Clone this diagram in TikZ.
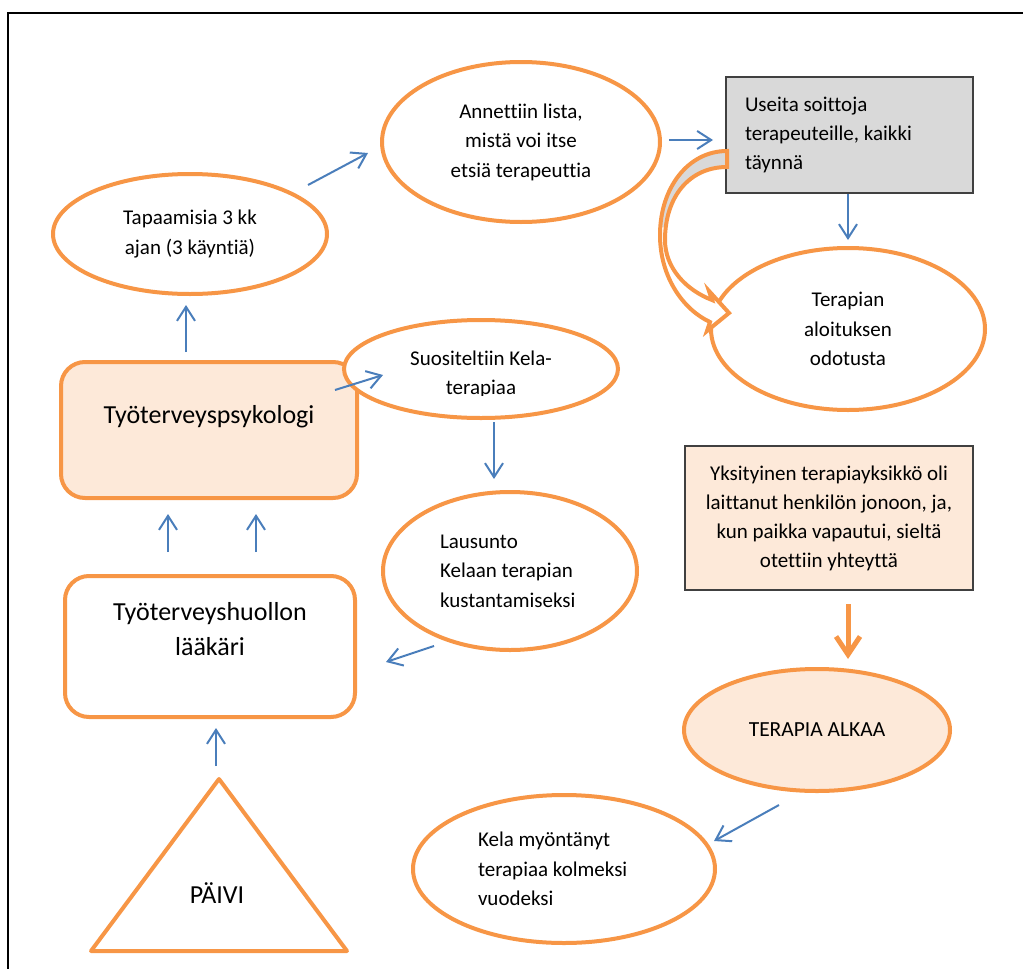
\documentclass[tikz,border=0pt]{standalone}
\usepackage{fontspec}
\setmainfont[Ligatures={NoCommon,NoContextual}]{Carlito}
\usetikzlibrary{shapes.geometric,arrows.meta}
\definecolor{accent}{HTML}{F79646}
\definecolor{linkblue}{HTML}{4A7EBB}
\definecolor{peach}{HTML}{FDE9D9}
\definecolor{boxgray}{HTML}{D9D9D9}
\definecolor{edgegray}{HTML}{404040}
\begin{document}
\begin{tikzpicture}[x=1pt,y=-1pt,
  oval/.style={ellipse, draw=accent, line width=4pt, fill=white, inner sep=0pt,
    align=center, font=\fontsize{21}{29.5}\selectfont},
  roundbox/.style={rectangle, rounded corners=24pt, draw=accent, line width=4pt,
    inner sep=0pt, align=center, font=\fontsize{26}{35}\selectfont},
  notebox/.style={rectangle, draw=edgegray, line width=1.2pt, inner sep=0pt,
    font=\fontsize{21}{29}\selectfont},
  flow/.style={draw=linkblue, line width=2pt, -{Straight Barb[length=14pt,width=18pt]}},
  bigflow/.style={draw=accent, line width=5pt, -{Straight Barb[length=18pt,width=24pt]}}]
\useasboundingbox (0,0) rectangle (1023,969);

% page frame
\draw[black, line width=2pt] (8,969) -- (8,13) -- (1023,13);

% upper chain
\node[oval, minimum width=274pt, minimum height=120pt] (tap) at (190,234)
  {Tapaamisia 3 kk\\ajan (3 käyntiä)};
\node[oval, minimum width=278pt, minimum height=160pt] (ann) at (521,142)
  {Annettiin lista,\\mistä voi itse\\etsiä terapeuttia};
\node[notebox, fill=boxgray, minimum width=247pt, minimum height=116pt,
  text width=209pt, align=flush left] (calls) at (849.5,135)
  {Useita soittoja\\terapeuteille, kaikki\\täynnä};
\node[oval, minimum width=274pt, minimum height=162pt] (wait) at (848,329)
  {Terapian\\aloituksen\\odotusta};

% bent block arrow from the calls box down to the waiting ellipse
\path[save path=\bendpath]
  (727,151) .. controls (688,151) and (660,188) .. (660,235)
  .. controls (660,278) and (684,310) .. (710,322)
  -- (707,331) -- (729,313) -- (709,291) -- (712,300)
  .. controls (686,290) and (665,268) .. (665,240)
  .. controls (665,196) and (690,167) .. (727,167) -- cycle;
\fill[white, use path=\bendpath];
\begin{scope}
  \clip (640,140) rectangle (740,226);
  \fill[boxgray, use path=\bendpath];
\end{scope}
\draw[accent, line width=4pt, line join=miter, use path=\bendpath];

% left column
\node[roundbox, fill=peach, minimum width=296pt, minimum height=136pt,
  text height=19pt, text depth=33pt] (psy) at (209,430) {Työterveyspsykologi};
\node[oval, minimum width=274pt, minimum height=98pt] (suo) at (481,369) {};
\begin{scope}
  \clip (340,330) rectangle (625,395);
  \node[align=center, inner sep=0pt, font=\fontsize{21}{29.5}\selectfont]
    (suotext) at (481,374.5) {Suositeltiin Kela-\\terapiaa};
\end{scope}
\node[oval, minimum width=254pt, minimum height=158pt, text width=140pt,
  align=flush left] (lau) at (510,571)
  {Lausunto\\Kelaan terapian\\kustantamiseksi};
\node[roundbox, fill=white, minimum width=290pt, minimum height=141pt] (doc) at (210,646.5)
  {Työterveyshuollon\\lääkäri\\\mbox{}};

% right column
\node[notebox, fill=peach, minimum width=288pt, minimum height=144pt, align=center]
  (yks) at (829,518)
  {Yksityinen terapiayksikkö oli\\laittanut henkilön jonoon, ja,\\kun paikka vapautui, sieltä\\otettiin yhteyttä};
\node[oval, fill=peach, minimum width=266pt, minimum height=122pt,
  font=\fontsize{21.5}{29}\selectfont] (start) at (817,730) {TERAPIA ALKAA};
\node[oval, minimum width=302pt, minimum height=148pt, text width=172pt,
  align=flush left] (kela) at (564,869)
  {Kela myöntänyt\\terapiaa kolmeksi\\vuodeksi};

% person triangle
\coordinate (apex) at (219,779);
\coordinate (baseL) at (91,951);
\coordinate (baseR) at (347,951);
\draw[accent, line width=4pt, line join=round] (apex) -- (baseL) -- (baseR) -- cycle;
\node[anchor=base, inner sep=0pt, font=\fontsize{26}{30}\selectfont] (paivi) at (217,903) {PÄIVI};

% connectors
\draw[flow] ([shift={(118,-49)}]tap.center) -- ([shift={(-153,11)}]ann.center);
\draw[flow] ([shift={(148,-2)}]ann.center) -- ([shift={(-136.5,5)}]calls.center);
\draw[flow] ([shift={(-1.5,59)}]calls.center) -- ([shift={(0,-89)}]wait.center);
\draw[flow] ([shift={(-23,-78)}]psy.center) -- ([shift={(-4,71)}]tap.center);
\draw[flow] ([shift={(126,-40)}]psy.center) -- ([shift={(-98,6)}]suo.center);
\draw[flow] ([shift={(13,53)}]suo.center) -- ([shift={(-16,-92)}]lau.center);
\draw[flow] ([shift={(-76,75)}]lau.center) -- ([shift={(176,15.5)}]doc.center);
\draw[flow] ([shift={(-42,-94.5)}]doc.center) -- ([shift={(-41,84)}]psy.center);
\draw[flow] ([shift={(46,-94.5)}]doc.center) -- ([shift={(47,84)}]psy.center);
\draw[flow] ([shift={(-3,-13)}]apex) -- ([shift={(6,81.5)}]doc.center);
\draw[bigflow] ([shift={(19,86)}]yks.center) -- ([shift={(31,-71)}]start.center);
\draw[flow] ([shift={(-38,75)}]start.center) -- ([shift={(150,-28)}]kela.center);
\end{tikzpicture}
\end{document}
